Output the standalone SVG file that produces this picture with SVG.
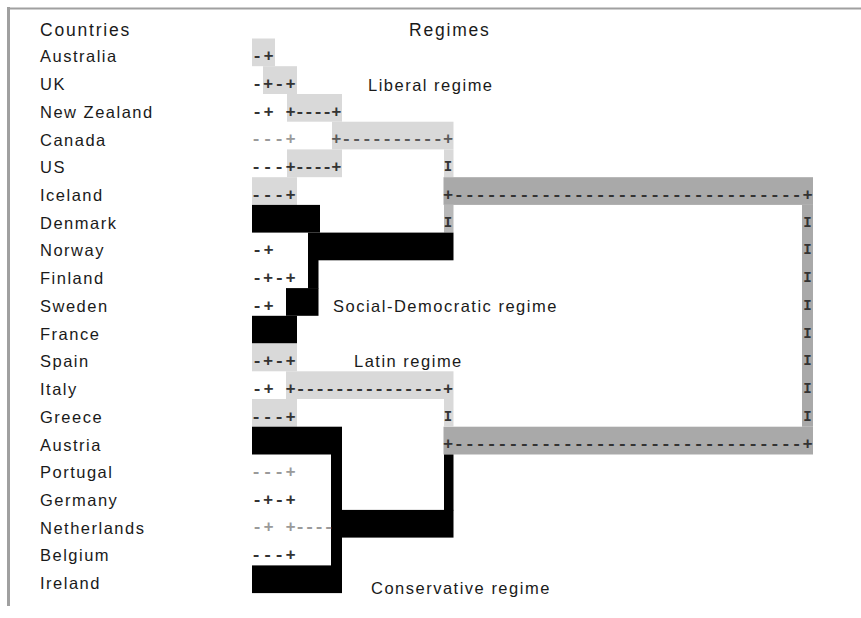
<svg xmlns="http://www.w3.org/2000/svg" width="861" height="618" viewBox="0 0 861 618">
<style>
.lbl{font-family:"Liberation Sans",Arial,sans-serif;font-size:16.5px;letter-spacing:1.5px;fill:#1a1a1a}
.hdr{font-family:"Liberation Sans",Arial,sans-serif;font-size:17.5px;letter-spacing:1.8px;fill:#1a1a1a}
.lt{fill:#d9d9d9}
.dk{fill:#a9a9a9}
.md{fill:#b8b8b8}
.bk{fill:#000}
.dg{font-family:"Liberation Mono","Courier New",monospace;font-size:17px;font-weight:bold;fill:#333}
.dg.l{fill:#9a9a9a}
.dg.m{fill:#5a5a5a}
.vi{font-family:"Liberation Mono","Courier New",monospace;font-size:14px;font-weight:bold;fill:#333;text-anchor:middle}
</style>
<rect width="861" height="618" fill="#fff"/>
<g id="frame" fill="none" stroke="#a0a0a0">
<line x1="7" y1="8.5" x2="861" y2="8.5" stroke-width="2"/>
<line x1="8.5" y1="7" x2="8.5" y2="606" stroke-width="3"/>
</g>
<g id="headers">
<text class="hdr" x="40" y="36">Countries</text>
<text class="hdr" x="409" y="36">Regimes</text>
</g>
<g id="liberal-regime">
<rect class="lt" x="252" y="38.5" width="23" height="27.7"/>
<rect class="lt" x="263" y="66.2" width="34" height="27.8"/>
<rect class="lt" x="287" y="94" width="55" height="27.7"/>
<rect class="lt" x="332" y="121.7" width="121.5" height="27.7"/>
<rect class="lt" x="444" y="149.4" width="9.5" height="27.8"/>
<rect class="lt" x="287" y="149.4" width="55" height="27.8"/>
<rect class="lt" x="252" y="177.2" width="45" height="27.7"/>
<text class="lbl" x="368" y="91">Liberal regime</text>
</g>
<g id="top-level-merge">
<rect class="dk" x="443.5" y="177.2" width="369.5" height="27.7"/>
<rect class="dk" x="802" y="204.9" width="11" height="221.8"/>
<rect class="dk" x="443.5" y="426.7" width="369.5" height="27.8"/>
<rect class="md" x="444" y="204.9" width="9.5" height="27.7"/>
</g>
<g id="social-democratic-regime">
<rect class="bk" x="252" y="204.9" width="68" height="27.7"/>
<rect class="bk" x="308" y="232.6" width="145.5" height="27.7"/>
<rect class="bk" x="308" y="260" width="10.5" height="28.5"/>
<rect class="bk" x="286" y="288.1" width="32.5" height="27.7"/>
<rect class="bk" x="252" y="315.8" width="45" height="27.7"/>
<text class="lbl" x="333" y="312">Social-Democratic regime</text>
</g>
<g id="latin-regime">
<rect class="lt" x="252" y="343.5" width="45" height="27.8"/>
<rect class="lt" x="286" y="371.3" width="167.5" height="27.7"/>
<rect class="lt" x="252" y="399" width="45" height="27.7"/>
<rect class="lt" x="444" y="399" width="9.5" height="27.7"/>
<text class="lbl" x="354" y="367">Latin regime</text>
</g>
<g id="conservative-regime">
<rect class="bk" x="252" y="426.7" width="90" height="27.8"/>
<rect class="bk" x="331" y="454" width="11" height="112"/>
<rect class="bk" x="331" y="509.9" width="122.5" height="27.7"/>
<rect class="bk" x="444" y="454.5" width="9.5" height="56"/>
<rect class="bk" x="252" y="565.4" width="90" height="27.7"/>
<text class="lbl" x="371" y="594">Conservative regime</text>
</g>
<g id="countries">
<g id="australia"><text class="lbl" x="40" y="62.3">Australia</text></g>
<g id="uk"><text class="lbl" x="40" y="90">UK</text></g>
<g id="new-zealand"><text class="lbl" x="40" y="117.8">New Zealand</text></g>
<g id="canada"><text class="lbl" x="40" y="145.5">Canada</text></g>
<g id="us"><text class="lbl" x="40" y="173.2">US</text></g>
<g id="iceland"><text class="lbl" x="40" y="201">Iceland</text></g>
<g id="denmark"><text class="lbl" x="40" y="228.7">Denmark</text></g>
<g id="norway"><text class="lbl" x="40" y="256.4">Norway</text></g>
<g id="finland"><text class="lbl" x="40" y="284.1">Finland</text></g>
<g id="sweden"><text class="lbl" x="40" y="311.9">Sweden</text></g>
<g id="france"><text class="lbl" x="40" y="339.6">France</text></g>
<g id="spain"><text class="lbl" x="40" y="367.3">Spain</text></g>
<g id="italy"><text class="lbl" x="40" y="395.1">Italy</text></g>
<g id="greece"><text class="lbl" x="40" y="422.8">Greece</text></g>
<g id="austria"><text class="lbl" x="40" y="450.5">Austria</text></g>
<g id="portugal"><text class="lbl" x="40" y="478.3">Portugal</text></g>
<g id="germany"><text class="lbl" x="40" y="506">Germany</text></g>
<g id="netherlands"><text class="lbl" x="40" y="533.7">Netherlands</text></g>
<g id="belgium"><text class="lbl" x="40" y="561.4">Belgium</text></g>
<g id="ireland"><text class="lbl" x="40" y="589.2">Ireland</text></g>
</g>
<g id="connectors">
<text class="dg" x="251.9" y="61" letter-spacing="1.5">-+</text>
<text class="dg" x="251.9" y="88.7" letter-spacing="1.03">-+-+</text>
<text class="dg" x="251.9" y="116.5" letter-spacing="1.5">-+</text>
<text class="dg" x="285.6" y="116.5" letter-spacing="-1.08">+----+</text>
<text class="dg l" x="250.9" y="144.2" letter-spacing="1.37">---+</text>
<text class="dg m" x="331.2" y="144.2" letter-spacing="-0.045">+----------+</text>
<text class="dg" x="250.9" y="171.9" letter-spacing="1.37">---+</text>
<text class="dg" x="294.7" y="171.9" letter-spacing="-1.08">----+</text>
<text class="vi" x="448" y="171.2">I</text>
<text class="dg" x="250.9" y="199.7" letter-spacing="1.37">---+</text>
<text class="dg" x="442.9" y="199.7" letter-spacing="0.694">+--------------------------------+</text>
<text class="vi" x="448" y="226.7">I</text>
<text class="dg" x="251.9" y="255.1" letter-spacing="1.5">-+</text>
<text class="dg" x="251.9" y="282.8" letter-spacing="1.03">-+-+</text>
<text class="dg" x="251.9" y="310.6" letter-spacing="1.5">-+</text>
<text class="dg" x="251.9" y="366" letter-spacing="1.03">-+-+</text>
<text class="dg" x="251.9" y="393.8" letter-spacing="1.5">-+</text>
<text class="dg" x="285.6" y="393.8" letter-spacing="-0.37">+---------------+</text>
<text class="dg" x="250.9" y="421.5" letter-spacing="1.37">---+</text>
<text class="vi" x="448" y="420.8">I</text>
<text class="dg" x="442.9" y="449.2" letter-spacing="0.694">+--------------------------------+</text>
<text class="dg l" x="250.9" y="477" letter-spacing="1.37">---+</text>
<text class="dg" x="251.9" y="504.7" letter-spacing="1.03">-+-+</text>
<text class="dg l" x="251.9" y="532.4" letter-spacing="1.5">-+</text>
<text class="dg l" x="285.6" y="532.4" letter-spacing="-0.7">+----</text>
<text class="dg" x="250.9" y="560.1" letter-spacing="1.37">---+</text>
<text class="vi" x="807.5" y="226.7">I</text>
<text class="vi" x="807.5" y="254.4">I</text>
<text class="vi" x="807.5" y="282.1">I</text>
<text class="vi" x="807.5" y="309.9">I</text>
<text class="vi" x="807.5" y="337.6">I</text>
<text class="vi" x="807.5" y="365.3">I</text>
<text class="vi" x="807.5" y="393.1">I</text>
<text class="vi" x="807.5" y="420.8">I</text>
</g>
</svg>
